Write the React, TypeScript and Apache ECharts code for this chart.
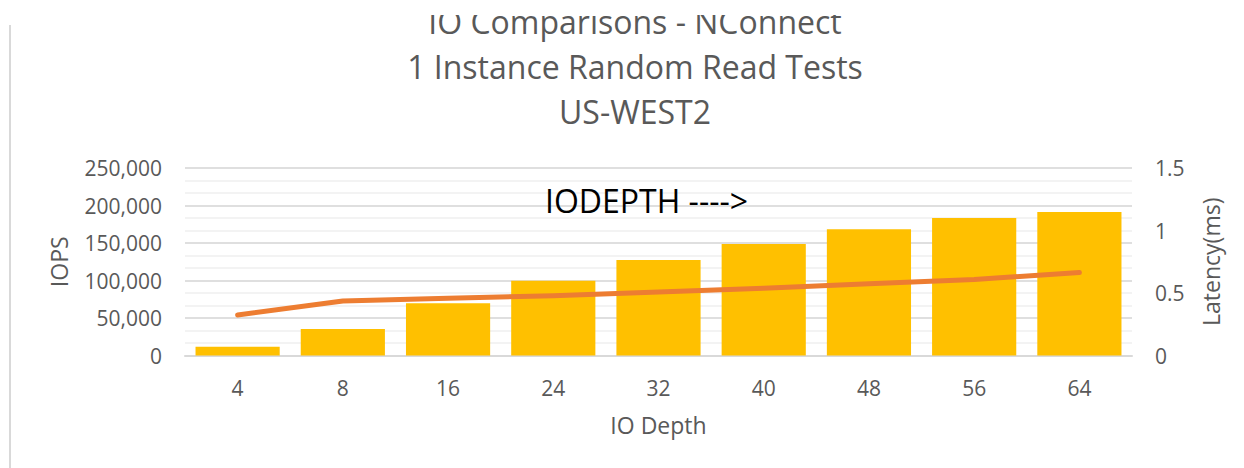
import React, { useEffect, useRef } from "react";
import * as echarts from "echarts";

const categories = ["4", "8", "16", "24", "32", "40", "48", "56", "64"];
const iops = [11700, 35300, 69600, 99800, 127300, 148700, 168200, 183300, 191300];
const latency = [0.324, 0.436, 0.458, 0.478, 0.508, 0.538, 0.574, 0.608, 0.664];
const titleLines = ["IO Comparisons - NConnect", "1 Instance Random Read Tests", "US-WEST2"];
const annotation = "IODEPTH ---->";

const FONT = "Open Sans";
const GRAY = "#595959";

export default function App() {
  const ref = useRef<HTMLDivElement>(null);
  useEffect(() => {
    if (!ref.current) return;
    const chart = echarts.init(ref.current, undefined, { renderer: "svg" });
    chart.setOption({
      animation: false,
      backgroundColor: "#ffffff",
      textStyle: { fontFamily: FONT },
      grid: { left: 185, right: 112, top: 168, bottom: 112.5, containLabel: false },
      graphic: [
        {
          type: "line",
          shape: { x1: 10, y1: 25, x2: 10, y2: 468 },
          style: { stroke: "#d9d9d9", lineWidth: 2 },
        },
        ...titleLines.map((t, i) => ({
          type: "text",
          x: 635,
          y: 21 + i * 45,
          z: 5,
          style: {
            text: t,
            fontFamily: FONT,
            fontSize: 32,
            fill: GRAY,
            textAlign: "center",
            textVerticalAlign: "middle",
          },
        })),
        {
          type: "rect",
          shape: { x: 300, y: 0, width: 700, height: 15 },
          style: { fill: "#ffffff" },
          z: 6,
        },
        {
          type: "text",
          x: 545,
          y: 200,
          z: 10,
          style: {
            text: annotation,
            fontFamily: FONT,
            fontSize: 32,
            fill: "#000000",
            textAlign: "left",
            textVerticalAlign: "middle",
          },
        },
      ],
      xAxis: {
        type: "category",
        data: categories,
        axisLine: { show: true, lineStyle: { color: "#d9d9d9", width: 2 } },
        axisTick: { show: false },
        axisLabel: { color: GRAY, fontSize: 21, margin: 22, fontFamily: FONT },
        name: "IO Depth",
        nameLocation: "middle",
        nameGap: 58,
        nameTextStyle: { color: GRAY, fontSize: 23, fontFamily: FONT },
      },
      yAxis: [
        {
          type: "value",
          min: 0,
          max: 250000,
          interval: 50000,
          z: 1,
          axisLine: { show: false },
          axisTick: { show: false },
          axisLabel: {
            color: GRAY,
            fontSize: 21,
            margin: 23,
            fontFamily: FONT,
            formatter: (v: number) => v.toLocaleString("en-US"),
          },
          splitLine: { show: true, lineStyle: { color: "#d9d9d9", width: 1.5 } },
          name: "IOPS",
          nameLocation: "middle",
          nameGap: 115,
          nameTextStyle: { color: GRAY, fontSize: 23, fontFamily: FONT },
        },
        {
          type: "value",
          min: 0,
          max: 1.5,
          interval: 0.1,
          z: 0,
          axisLine: { show: false },
          axisTick: { show: false },
          axisLabel: {
            color: GRAY,
            fontSize: 21,
            margin: 23,
            fontFamily: FONT,
            formatter: (v: number) => {
              const r = Math.round(v * 10) / 10;
              return Math.abs(r * 2 - Math.round(r * 2)) < 1e-6 ? String(r) : "";
            },
          },
          splitLine: { show: true, lineStyle: { color: "#efefef", width: 1.5 } },
          name: "Latency(ms)",
          nameLocation: "middle",
          nameGap: 67,
          nameTextStyle: { color: GRAY, fontSize: 23, fontFamily: FONT },
        },
      ],
      series: [
        {
          type: "bar",
          data: iops,
          yAxisIndex: 0,
          barCategoryGap: "20%",
          itemStyle: { color: "#FFC000" },
          z: 2,
        },
        {
          type: "line",
          data: latency,
          yAxisIndex: 1,
          showSymbol: false,
          symbol: "none",
          lineStyle: { color: "#ED7D31", width: 5, cap: "round", join: "round" },
          z: 3,
        },
      ],
    });
    return () => chart.dispose();
  }, []);
  return (
    <div
      ref={ref}
      style={{ position: "fixed", left: 0, top: 0, width: 1244, height: 468 }}
    />
  );
}
